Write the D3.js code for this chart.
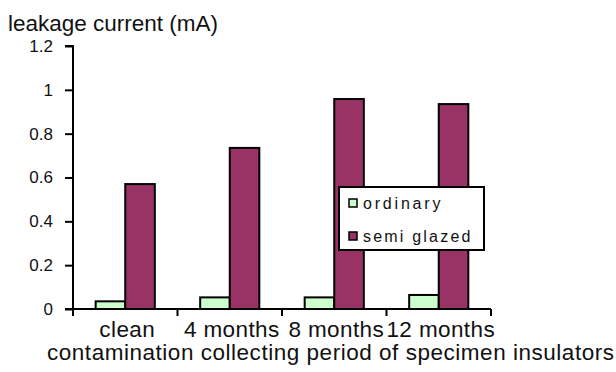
<!DOCTYPE html>
<html>
<head>
<meta charset="utf-8">
<script src="https://cdn.jsdelivr.net/npm/d3@7/dist/d3.min.js"></script>
<style>
  html, body { margin: 0; padding: 0; background: #fff; }
  svg { display: block; font-family: "Liberation Sans", Arial, sans-serif; }
</style>
</head>
<body>
<svg id="chart" width="616" height="372"></svg>
<script>
// Leakage current by contamination collecting period
const categories = ["clean", "4 months", "8 months", "12 months"];
const seriesNames = ["ordinary", "semi glazed"];
const ordinary = [0.035, 0.053, 0.053, 0.064];
const semiGlazed = [0.57, 0.735, 0.958, 0.935];
const yTicks = [0, 0.2, 0.4, 0.6, 0.8, 1, 1.2];
const seriesColors = ["#ccffcc", "#993366"];

const svg = d3.select("#chart");
const plot = { left: 73, right: 491, top: 46, bottom: 309 };

const x = d3.scaleBand().domain(categories).range([plot.left, plot.right]).padding(0);
const y = d3.scaleLinear().domain([0, 1.2]).range([plot.bottom, plot.top]);
const barW = x.bandwidth() * 0.283;

const rows = categories.map((c, i) => ({ cat: c, vals: [ordinary[i], semiGlazed[i]] }));

// bars, two per category, centred in the band
const g = svg.append("g");
rows.forEach(r => {
  const cx = x(r.cat) + x.bandwidth() / 2;
  r.vals.forEach((v, s) => {
    g.append("rect")
      .attr("x", cx - barW + s * barW)
      .attr("y", y(v))
      .attr("width", barW)
      .attr("height", y(0) - y(v))
      .attr("fill", seriesColors[s])
      .attr("stroke", "#000")
      .attr("stroke-width", 2);
  });
});

// y axis
const yAxis = d3.axisLeft(y).tickValues(yTicks).tickSize(8).tickPadding(12)
  .tickFormat(d => d3.format("~g")(d));
const ya = svg.append("g").attr("transform", `translate(${plot.left},0)`).call(yAxis);
ya.select(".domain").attr("stroke", "#000").attr("stroke-width", 2)
  .attr("d", `M-8,${plot.top}H0V${plot.bottom + 7}`);
ya.selectAll(".tick line").attr("stroke", "#000").attr("stroke-width", 2);
ya.selectAll(".tick text").attr("font-size", 17).attr("fill", "#111")
  .attr("font-family", "'Liberation Sans', Arial, sans-serif");

// x axis, tick marks between categories
const xa = svg.append("g").attr("transform", `translate(0,${plot.bottom})`);
xa.append("line").attr("x1", plot.left - 8).attr("x2", plot.right)
  .attr("stroke", "#000").attr("stroke-width", 2);
categories.forEach(c => {
  const xe = x(c) + x.bandwidth();
  xa.append("line").attr("x1", xe).attr("x2", xe)
    .attr("y1", 0).attr("y2", 7).attr("stroke", "#000").attr("stroke-width", 2);
  xa.append("text").attr("x", x(c) + x.bandwidth() / 2 + 2).attr("y", 28)
    .attr("text-anchor", "middle").attr("font-size", 22.5).attr("fill", "#111")
    .attr("letter-spacing", 0.4).text(c);
});

// titles
svg.append("text").attr("x", 8).attr("y", 31).attr("font-size", 22.5).attr("fill", "#111")
  .text("leakage current (mA)");
svg.append("text").attr("x", 47).attr("y", 360).attr("fill", "#111")
  .attr("font-size", 22.5).attr("textLength", 567).attr("lengthAdjust", "spacing")
  .text("contamination collecting  period of specimen insulators");

// legend
const lg = svg.append("g").attr("transform", "translate(339,187)");
lg.append("rect").attr("width", 145).attr("height", 63).attr("fill", "#fff")
  .attr("stroke", "#000").attr("stroke-width", 2);
seriesNames.forEach((n, i) => {
  const row = lg.append("g").attr("transform", `translate(10,${16 + i * 33})`);
  row.append("rect").attr("x", 0).attr("y", -4).attr("width", 8).attr("height", 8)
    .attr("fill", seriesColors[i]).attr("stroke", "#000").attr("stroke-width", 1.5);
  row.append("text").attr("x", 14).attr("y", 5.5).attr("font-size", 16).attr("fill", "#111")
    .attr("letter-spacing", i === 0 ? 2.8 : 2.2).text(n);
});
</script>
</body>
</html>
